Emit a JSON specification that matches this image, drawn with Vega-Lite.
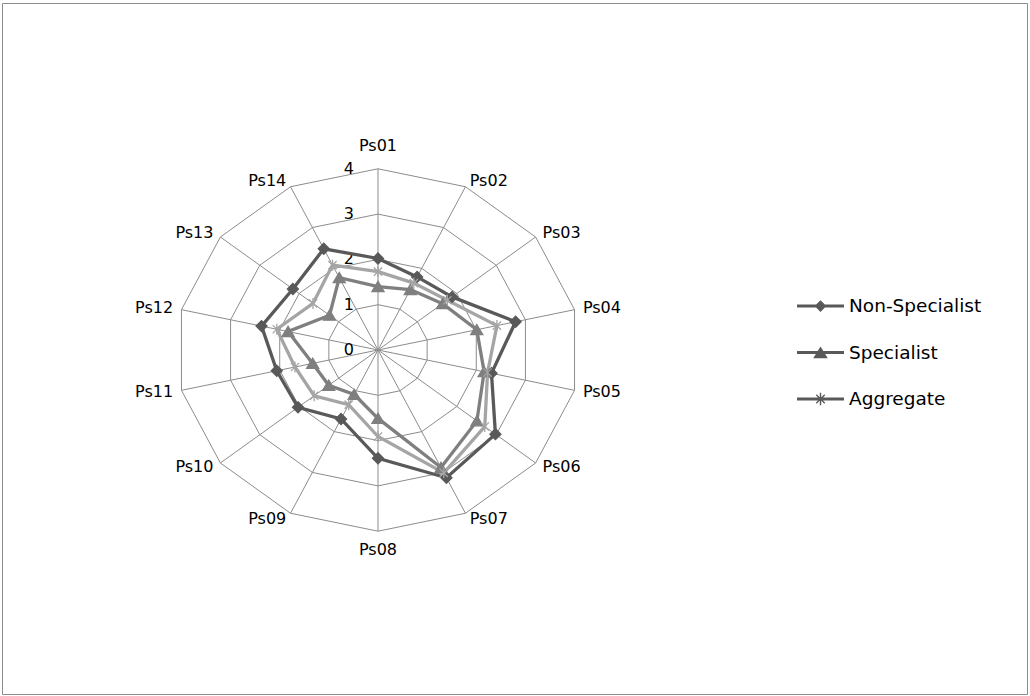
{
  "$schema": "https://vega.github.io/schema/vega-lite/v6.json",
  "width": 1025,
  "height": 691,
  "padding": {"left": 2, "top": 3, "right": 3, "bottom": 2},
  "autosize": {"type": "none"},
  "background": "white",
  "config": {
    "view": {"stroke": "#8c8c8c", "strokeWidth": 1},
    "font": "DejaVu Sans",
    "legend": {
      "title": null,
      "orient": "none",
      "legendX": 795,
      "legendY": 279.5,
      "padding": 0,
      "rowPadding": 13.5,
      "symbolSize": 2209,
      "symbolStrokeWidth": 0,
      "symbolFillColor": "#595959",
      "labelFont": "DejaVu Sans",
      "labelFontSize": 18.5,
      "labelColor": "#000000",
      "labelOffset": 5
    }
  },
  "datasets": {
    "scores": [
      {"cat": "Ps01", "series": "Non-Specialist", "value": 2.02},
      {"cat": "Ps02", "series": "Non-Specialist", "value": 1.79},
      {"cat": "Ps03", "series": "Non-Specialist", "value": 1.88},
      {"cat": "Ps04", "series": "Non-Specialist", "value": 2.80},
      {"cat": "Ps05", "series": "Non-Specialist", "value": 2.31},
      {"cat": "Ps06", "series": "Non-Specialist", "value": 2.98},
      {"cat": "Ps07", "series": "Non-Specialist", "value": 3.13},
      {"cat": "Ps08", "series": "Non-Specialist", "value": 2.39},
      {"cat": "Ps09", "series": "Non-Specialist", "value": 1.69},
      {"cat": "Ps10", "series": "Non-Specialist", "value": 2.03},
      {"cat": "Ps11", "series": "Non-Specialist", "value": 2.06},
      {"cat": "Ps12", "series": "Non-Specialist", "value": 2.37},
      {"cat": "Ps13", "series": "Non-Specialist", "value": 2.16},
      {"cat": "Ps14", "series": "Non-Specialist", "value": 2.48},
      {"cat": "Ps01", "series": "Specialist", "value": 1.40},
      {"cat": "Ps02", "series": "Specialist", "value": 1.48},
      {"cat": "Ps03", "series": "Specialist", "value": 1.64},
      {"cat": "Ps04", "series": "Specialist", "value": 2.01},
      {"cat": "Ps05", "series": "Specialist", "value": 2.16},
      {"cat": "Ps06", "series": "Specialist", "value": 2.51},
      {"cat": "Ps07", "series": "Specialist", "value": 2.88},
      {"cat": "Ps08", "series": "Specialist", "value": 1.51},
      {"cat": "Ps09", "series": "Specialist", "value": 1.09},
      {"cat": "Ps10", "series": "Specialist", "value": 1.25},
      {"cat": "Ps11", "series": "Specialist", "value": 1.33},
      {"cat": "Ps12", "series": "Specialist", "value": 1.83},
      {"cat": "Ps13", "series": "Specialist", "value": 1.23},
      {"cat": "Ps14", "series": "Specialist", "value": 1.77},
      {"cat": "Ps01", "series": "Aggregate", "value": 1.73},
      {"cat": "Ps02", "series": "Aggregate", "value": 1.64},
      {"cat": "Ps03", "series": "Aggregate", "value": 1.76},
      {"cat": "Ps04", "series": "Aggregate", "value": 2.42},
      {"cat": "Ps05", "series": "Aggregate", "value": 2.23},
      {"cat": "Ps06", "series": "Aggregate", "value": 2.71},
      {"cat": "Ps07", "series": "Aggregate", "value": 3.01},
      {"cat": "Ps08", "series": "Aggregate", "value": 1.91},
      {"cat": "Ps09", "series": "Aggregate", "value": 1.34},
      {"cat": "Ps10", "series": "Aggregate", "value": 1.62},
      {"cat": "Ps11", "series": "Aggregate", "value": 1.69},
      {"cat": "Ps12", "series": "Aggregate", "value": 2.06},
      {"cat": "Ps13", "series": "Aggregate", "value": 1.65},
      {"cat": "Ps14", "series": "Aggregate", "value": 2.08}
    ],
    "grid": [
      {"cat": "Ps01", "ring": [1, 2, 3, 4]},
      {"cat": "Ps02", "ring": [1, 2, 3, 4]},
      {"cat": "Ps03", "ring": [1, 2, 3, 4]},
      {"cat": "Ps04", "ring": [1, 2, 3, 4]},
      {"cat": "Ps05", "ring": [1, 2, 3, 4]},
      {"cat": "Ps06", "ring": [1, 2, 3, 4]},
      {"cat": "Ps07", "ring": [1, 2, 3, 4]},
      {"cat": "Ps08", "ring": [1, 2, 3, 4]},
      {"cat": "Ps09", "ring": [1, 2, 3, 4]},
      {"cat": "Ps10", "ring": [1, 2, 3, 4]},
      {"cat": "Ps11", "ring": [1, 2, 3, 4]},
      {"cat": "Ps12", "ring": [1, 2, 3, 4]},
      {"cat": "Ps13", "ring": [1, 2, 3, 4]},
      {"cat": "Ps14", "ring": [1, 2, 3, 4]}
    ],
    "levels": [
      {"level": 0}, {"level": 1}, {"level": 2}, {"level": 3}, {"level": 4}
    ]
  },
  "encoding": {
    "x": {"field": "px", "type": "quantitative", "scale": {"domain": [-7.4603, 12.877], "nice": false, "zero": false}, "axis": null},
    "y": {"field": "py", "type": "quantitative", "scale": {"domain": [-7.594, 7.660], "nice": false, "zero": false}, "axis": null}
  },
  "layer": [
    {
      "data": {"name": "grid"},
      "transform": [
        {"flatten": ["ring"]},
        {"calculate": "toNumber(substring(datum.cat, 2)) - 1", "as": "idx"},
        {"calculate": "datum.idx * 2 * PI / 14", "as": "ang"},
        {"calculate": "datum.ring * sin(datum.ang)", "as": "px"},
        {"calculate": "datum.ring * cos(datum.ang)", "as": "py"}
      ],
      "mark": {"type": "line", "interpolate": "linear-closed", "stroke": "#8c8c8c", "strokeWidth": 1},
      "encoding": {
        "detail": {"field": "ring", "type": "nominal"},
        "order": {"field": "idx", "type": "quantitative"}
      }
    },
    {
      "data": {"name": "grid"},
      "transform": [
        {"calculate": "toNumber(substring(datum.cat, 2)) - 1", "as": "idx"},
        {"calculate": "datum.idx * 2 * PI / 14", "as": "ang"},
        {"calculate": "4 * sin(datum.ang)", "as": "px"},
        {"calculate": "4 * cos(datum.ang)", "as": "py"}
      ],
      "mark": {"type": "rule", "stroke": "#8c8c8c", "strokeWidth": 1},
      "encoding": {
        "x2": {"datum": 0},
        "y2": {"datum": 0}
      }
    },
    {
      "data": {"name": "levels"},
      "transform": [
        {"calculate": "0", "as": "px"},
        {"calculate": "datum.level", "as": "py"}
      ],
      "mark": {"type": "text", "align": "right", "baseline": "middle", "dx": -24, "fontSize": 16, "font": "DejaVu Sans", "color": "#000000"},
      "encoding": {"text": {"field": "level", "type": "quantitative"}}
    },
    {
      "data": {"name": "grid"},
      "transform": [
        {"calculate": "toNumber(substring(datum.cat, 2)) - 1", "as": "idx"},
        {"calculate": "datum.idx * 2 * PI / 14", "as": "ang"},
        {"calculate": "sin(datum.ang)", "as": "s"},
        {"calculate": "cos(datum.ang)", "as": "c"},
        {"calculate": "4.15 * datum.s", "as": "px"},
        {"calculate": "4.15 * datum.c + (datum.c > 0.99 ? 0.35 : (datum.c < -0.99 ? -0.27 : 0))", "as": "py"},
        {"filter": "datum.s > 0.1"}
      ],
      "mark": {"type": "text", "align": "left", "baseline": "middle", "dx": 1, "fontSize": 16, "font": "DejaVu Sans", "color": "#000000"},
      "encoding": {"text": {"field": "cat", "type": "nominal"}}
    },
    {
      "data": {"name": "grid"},
      "transform": [
        {"calculate": "toNumber(substring(datum.cat, 2)) - 1", "as": "idx"},
        {"calculate": "datum.idx * 2 * PI / 14", "as": "ang"},
        {"calculate": "sin(datum.ang)", "as": "s"},
        {"calculate": "cos(datum.ang)", "as": "c"},
        {"calculate": "4.15 * datum.s", "as": "px"},
        {"calculate": "4.15 * datum.c", "as": "py"},
        {"filter": "datum.s < -0.1"}
      ],
      "mark": {"type": "text", "align": "right", "baseline": "middle", "dx": -1, "fontSize": 16, "font": "DejaVu Sans", "color": "#000000"},
      "encoding": {"text": {"field": "cat", "type": "nominal"}}
    },
    {
      "data": {"name": "grid"},
      "transform": [
        {"calculate": "toNumber(substring(datum.cat, 2)) - 1", "as": "idx"},
        {"calculate": "datum.idx * 2 * PI / 14", "as": "ang"},
        {"calculate": "sin(datum.ang)", "as": "s"},
        {"calculate": "cos(datum.ang)", "as": "c"},
        {"calculate": "4.15 * datum.s", "as": "px"},
        {"calculate": "4.15 * datum.c + (datum.c > 0.99 ? 0.35 : (datum.c < -0.99 ? -0.27 : 0))", "as": "py"},
        {"filter": "abs(datum.s) <= 0.1"}
      ],
      "mark": {"type": "text", "align": "center", "baseline": "middle", "fontSize": 16, "font": "DejaVu Sans", "color": "#000000"},
      "encoding": {"text": {"field": "cat", "type": "nominal"}}
    },
    {
      "data": {"name": "scores"},
      "transform": [
        {"calculate": "toNumber(substring(datum.cat, 2)) - 1", "as": "idx"},
        {"calculate": "datum.idx * 2 * PI / 14", "as": "ang"},
        {"calculate": "datum.value * sin(datum.ang)", "as": "px"},
        {"calculate": "datum.value * cos(datum.ang)", "as": "py"}
      ],
      "mark": {"type": "line", "interpolate": "linear-closed", "strokeWidth": 3.3},
      "encoding": {
        "color": {"field": "series", "type": "nominal", "scale": {"domain": ["Non-Specialist", "Specialist", "Aggregate"], "range": ["#595959", "#7f7f7f", "#a5a5a5"]}, "legend": null},
        "detail": {"field": "series", "type": "nominal"},
        "order": {"field": "idx", "type": "quantitative"}
      }
    },
    {
      "data": {"name": "scores"},
      "transform": [
        {"calculate": "toNumber(substring(datum.cat, 2)) - 1", "as": "idx"},
        {"calculate": "datum.idx * 2 * PI / 14", "as": "ang"},
        {"calculate": "datum.value * sin(datum.ang)", "as": "px"},
        {"calculate": "datum.value * cos(datum.ang)", "as": "py"}
      ],
      "mark": {"type": "point", "filled": true, "opacity": 1, "size": 121, "strokeWidth": 1.3},
      "encoding": {
        "color": {"field": "series", "type": "nominal", "legend": null},
        "stroke": {"field": "series", "type": "nominal", "scale": {"domain": ["Non-Specialist", "Specialist", "Aggregate"], "range": ["#595959", "#7f7f7f", "#a5a5a5"]}, "legend": null},
        "shape": {"field": "series", "type": "nominal", "scale": {"domain": ["Non-Specialist", "Specialist", "Aggregate"], "range": ["M0,-1L1,0L0,1L-1,0Z", "M0,-0.95L1.1,0.9L-1.1,0.9Z", "M-0.75,-0.75L0.75,0.75M0.75,-0.75L-0.75,0.75M0,-1L0,1"]}, "legend": null}
      }
    },
    {
      "data": {"name": "scores"},
      "transform": [
        {"filter": "false"},
        {"calculate": "0", "as": "px"},
        {"calculate": "0", "as": "py"}
      ],
      "mark": {"type": "point", "filled": true, "opacity": 1},
      "encoding": {
        "color": {"field": "series", "type": "nominal", "legend": {}},
        "shape": {
          "field": "series",
          "type": "nominal",
          "scale": {
            "domain": ["Non-Specialist", "Specialist", "Aggregate"],
            "range": [
              "M-1,-0.064L1,-0.064L1,0.064L-1,0.064ZM0,-0.25L0.25,0L0,0.25L-0.25,0Z",
              "M-1,-0.064L1,-0.064L1,0.064L-1,0.064ZM0,-0.26L0.31,0.24L-0.31,0.24Z",
              "M-1,-0.064L1,-0.064L1,0.064L-1,0.064ZM-0.03,-0.27L0.03,-0.27L0.03,0.27L-0.03,0.27ZM-0.16,-0.2L0.2,0.16L0.16,0.2L-0.2,-0.16ZM0.16,-0.2L0.2,-0.16L-0.16,0.2L-0.2,0.16Z"
            ]
          },
          "legend": {}
        }
      }
    }
  ],
  "resolve": {"scale": {"shape": "independent"}}
}
